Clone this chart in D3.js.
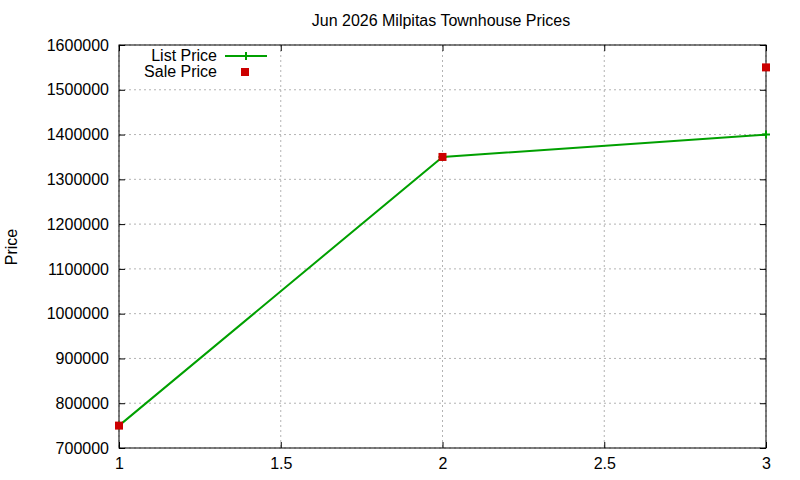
<!DOCTYPE html>
<html><head><meta charset="utf-8">
<script src="https://cdn.jsdelivr.net/npm/d3@7/dist/d3.min.js"></script>
<style>body{margin:0;background:#fff}svg{font-family:"Liberation Sans",Arial,sans-serif}</style>
</head><body><svg id="c" width="800" height="480"></svg>
<script>
const title = "Jun 2026 Milpitas Townhouse Prices";
const xs = [1, 2, 3];
const listPrice = [750000, 1350000, 1400000];
const salePrice = [750000, 1350000, 1550000];
const xTicks = [1, 1.5, 2, 2.5, 3];
const yTicks = [700000,800000,900000,1000000,1100000,1200000,1300000,1400000,1500000,1600000];

const svg = d3.select("#c");
const L=119,R=766,T=45,B=448;
const FS=16;
const x = d3.scaleLinear().domain([1,3]).range([L,R]);
const y = d3.scaleLinear().domain([700000,1600000]).range([B,T]);

const g = svg.append("g");
xTicks.forEach(t=>{ g.append("line").attr("x1",x(t)).attr("x2",x(t)).attr("y1",T).attr("y2",B).attr("stroke","#a0a0a0").attr("stroke-width",0.8).attr("stroke-dasharray","2,3"); });
yTicks.forEach(t=>{ g.append("line").attr("x1",L).attr("x2",R).attr("y1",y(t)).attr("y2",y(t)).attr("stroke","#a0a0a0").attr("stroke-width",0.8).attr("stroke-dasharray","2,3"); });

const ax = d3.axisBottom(x).tickValues(xTicks).tickSize(-6).tickPadding(10).tickFormat(d=>d);
const ay = d3.axisLeft(y).tickValues(yTicks).tickSize(-6).tickPadding(10).tickFormat(d=>d);
const axT = d3.axisTop(x).tickValues(xTicks).tickSize(-6).tickFormat("");
const ayR = d3.axisRight(y).tickValues(yTicks).tickSize(-6).tickFormat("");
function style(s){ s.select(".domain").remove(); s.selectAll("line").attr("stroke","#000"); s.selectAll("text").attr("font-size",FS).attr("fill","#000").attr("font-family","Liberation Sans, Arial, sans-serif"); }
svg.append("g").attr("transform",`translate(0,${B})`).call(ax).call(style);
svg.append("g").attr("transform",`translate(${L},0)`).call(ay).call(style);
svg.append("g").attr("transform",`translate(0,${T})`).call(axT).call(style);
svg.append("g").attr("transform",`translate(${R},0)`).call(ayR).call(style);
svg.append("rect").attr("x",L).attr("y",T).attr("width",R-L).attr("height",B-T).attr("fill","none").attr("stroke","#000");

const pts = xs.map((d,i)=>[d,listPrice[i]]);
svg.append("path").datum(pts).attr("d",d3.line().x(d=>x(d[0])).y(d=>y(d[1]))).attr("fill","none").attr("stroke","#00a000").attr("stroke-width",2);
pts.forEach(d=>{ svg.append("path").attr("d",`M${x(d[0])-4},${y(d[1])}h8M${x(d[0])},${y(d[1])-4}v8`).attr("stroke","#00a000").attr("stroke-width",2); });
svg.selectAll(".s").data(xs.map((d,i)=>[d,salePrice[i]])).enter().append("rect")
 .attr("x",d=>x(d[0])-4).attr("y",d=>y(d[1])-4).attr("width",8).attr("height",8).attr("fill","#cc0000");

svg.append("text").attr("x",441).attr("y",26).attr("text-anchor","middle").attr("font-size",FS).text(title);
svg.append("text").attr("transform","translate(17,247) rotate(-90)").attr("text-anchor","middle").attr("font-size",FS).text("Price");

svg.append("text").attr("x",217).attr("y",61).attr("text-anchor","end").attr("font-size",FS).text("List Price");
svg.append("line").attr("x1",225).attr("x2",267).attr("y1",56).attr("y2",56).attr("stroke","#00a000").attr("stroke-width",2);
svg.append("path").attr("d","M246,52v8").attr("stroke","#00a000").attr("stroke-width",2);
svg.append("text").attr("x",217).attr("y",77).attr("text-anchor","end").attr("font-size",FS).text("Sale Price");
svg.append("rect").attr("x",241).attr("y",68).attr("width",8).attr("height",8).attr("fill","#cc0000");
</script></body></html>
